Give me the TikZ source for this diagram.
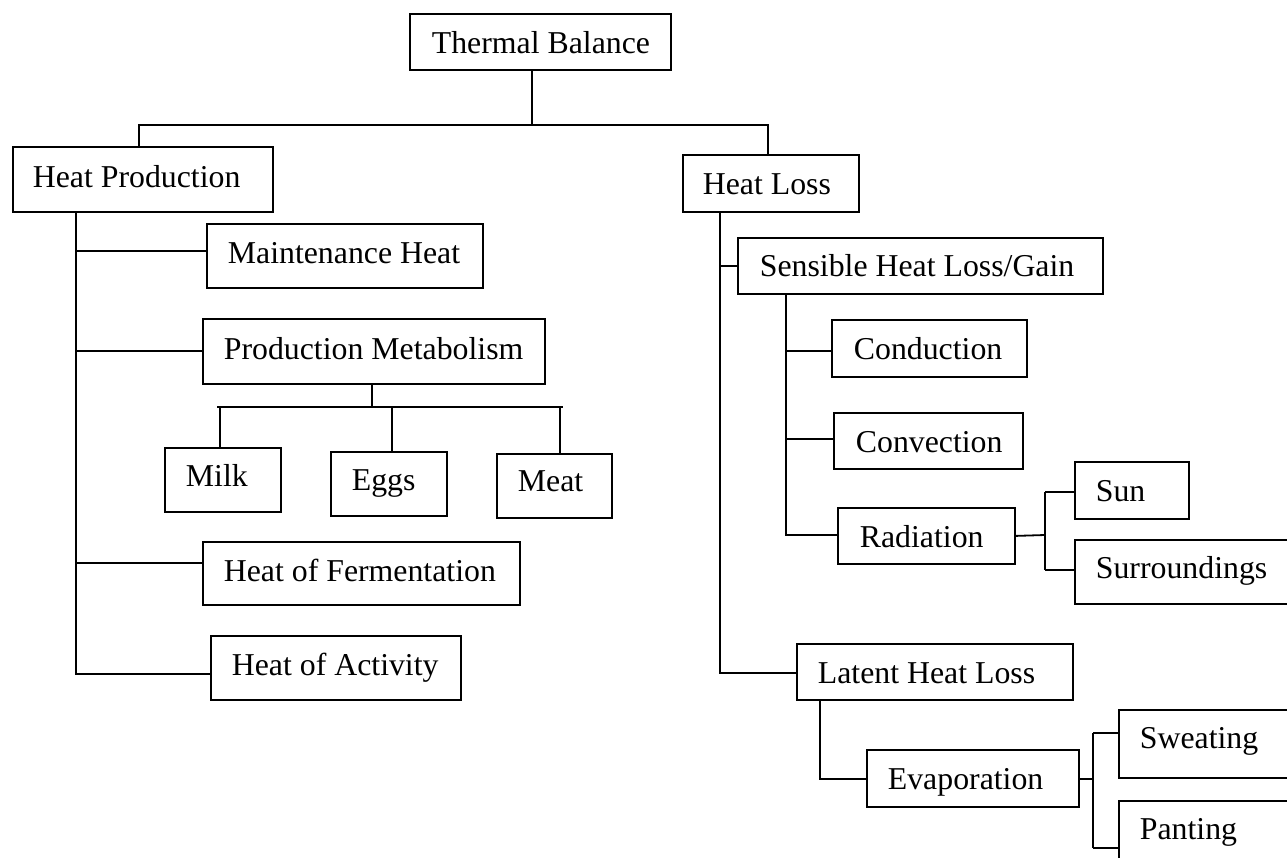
\documentclass[tikz,border=0pt]{standalone}
\usepackage{fontspec}
\setmainfont{Liberation Serif}
\begin{document}
\begin{tikzpicture}[x=1pt,y=-1pt,line width=1.8pt,
  bx/.style={draw,rectangle,anchor=north west,inner sep=0pt},
  tx/.style={anchor=base west,inner sep=0pt,font=\fontsize{31.8}{38}\selectfont},
  ln/.style={draw,line width=1.8pt}]
\useasboundingbox (0,0) rectangle (1287,857);
\clip (0,0) rectangle (1287,857);
% boxes
\node[bx,minimum width=261,minimum height=56] (tb) at (409,13) {};
\node[bx,minimum width=260,minimum height=65] (hp) at (12,146) {};
\node[bx,minimum width=276,minimum height=64] (mh) at (206,223) {};
\node[bx,minimum width=342,minimum height=65] (pm) at (202,318) {};
\node[bx,minimum width=116,minimum height=64] (milk) at (164,447) {};
\node[bx,minimum width=116,minimum height=64] (eggs) at (330,451) {};
\node[bx,minimum width=115,minimum height=64] (meat) at (496,453) {};
\node[bx,minimum width=317,minimum height=63] (hof) at (202,541) {};
\node[bx,minimum width=250,minimum height=64] (hoa) at (210,635) {};
\node[bx,minimum width=176,minimum height=57] (hl) at (682,154) {};
\node[bx,minimum width=365,minimum height=56] (shl) at (737,237) {};
\node[bx,minimum width=195,minimum height=57] (cond) at (831,319) {};
\node[bx,minimum width=189,minimum height=56] (conv) at (833,412) {};
\node[bx,minimum width=177,minimum height=56] (rad) at (837,507) {};
\node[bx,minimum width=114,minimum height=57] (sun) at (1074,461) {};
\node[bx,minimum width=226,minimum height=64] (sur) at (1074,539) {};
\node[bx,minimum width=276,minimum height=56] (lhl) at (796,643) {};
\node[bx,minimum width=212,minimum height=57] (evap) at (866,749) {};
\node[bx,minimum width=182,minimum height=68] (swt) at (1118,709) {};
\node[bx,minimum width=182,minimum height=70] (pant) at (1118,800) {};
% texts
\node[tx] (tbt) at (431,53) {Thermal Balance};
\node[tx] (hpt) at (32,187) {Heat Production};
\node[tx] (mht) at (227,263) {Maintenance Heat};
\node[tx] (pmt) at (223,359) {Production Metabolism};
\node[tx] (milkt) at (185,486) {Milk};
\node[tx] (eggst) at (351,490) {Eggs};
\node[tx] (meatt) at (517,491) {Meat};
\node[tx] (hoft) at (223,581) {Heat of Fermentation};
\node[tx] (hoat) at (231,675) {Heat of Activity};
\node[tx] (hlt) at (702,194) {Heat Loss};
\node[tx] (shlt) at (759,276) {Sensible Heat Loss/Gain};
\node[tx] (condt) at (853,359) {Conduction};
\node[tx] (convt) at (855,452) {Convection};
\node[tx] (radt) at (859,547) {Radiation};
\node[tx] (sunt) at (1095,501) {Sun};
\node[tx] (surt) at (1095,578) {Surroundings};
\node[tx] (lhlt) at (817,683) {Latent Heat Loss};
\node[tx] (evapt) at (887,789) {Evaporation};
\node[tx] (swtt) at (1139,748) {Sweating};
\node[tx] (pantt) at (1139,839) {Panting};
% junction coordinates
\coordinate (j0) at (532,125);
\coordinate (jL) at (139,125);
\coordinate (jR) at (768,125);
\coordinate (hpv) at (76,674);
\coordinate (bmh) at (76,251);
\coordinate (bpm) at (76,351);
\coordinate (bhof) at (76,563);
\coordinate (pmj) at (372,407);
\coordinate (barL) at (217,407);
\coordinate (barR) at (563,407);
\coordinate (dmilk) at (220,407);
\coordinate (deggs) at (392,407);
\coordinate (dmeat) at (560,407);
\coordinate (hlv) at (720,673);
\coordinate (bshl) at (720,266);
\coordinate (shlv) at (786,535);
\coordinate (bcond) at (786,351);
\coordinate (bconv) at (786,439);
\coordinate (rj) at (1045,535);
\coordinate (rs) at (1045,492);
\coordinate (rsu) at (1045,570);
\coordinate (lv) at (820,779);
\coordinate (ej) at (1093,779);
\coordinate (es) at (1093,733);
\coordinate (ep) at (1093,848);
% connectors
\path[ln] (j0 |- tb.south) -- (j0);
\path[ln] (jL |- hp.north) -- (jL) -- (jR) -- (jR |- hl.north);
\path[ln] (hpv |- hp.south) -- (hpv) -- (hoa.west |- hpv);
\path[ln] (bmh) -- (mh.west |- bmh);
\path[ln] (bpm) -- (pm.west |- bpm);
\path[ln] (bhof) -- (hof.west |- bhof);
\path[ln] (pmj |- pm.south) -- (pmj);
\path[ln] (barL) -- (barR);
\path[ln] (dmilk) -- (dmilk |- milk.north);
\path[ln] (deggs) -- (deggs |- eggs.north);
\path[ln] (dmeat) -- (dmeat |- meat.north);
\path[ln] (hlv |- hl.south) -- (hlv) -- (lhl.west |- hlv);
\path[ln] (bshl) -- (shl.west |- bshl);
\path[ln] (shlv |- shl.south) -- (shlv) -- (rad.west |- shlv);
\path[ln] (bcond) -- (cond.west |- bcond);
\path[ln] (bconv) -- (conv.west |- bconv);
\path[ln] (rad.east) -- (rj);
\path[ln] (rs) -- (rsu);
\path[ln] (rs) -- (sun.west |- rs);
\path[ln] (rsu) -- (sur.west |- rsu);
\path[ln] (lv |- lhl.south) -- (lv) -- (evap.west |- lv);
\path[ln] (evap.east |- ej) -- (ej);
\path[ln] (es) -- (ep);
\path[ln] (es) -- (swt.west |- es);
\path[ln] (ep) -- (pant.west |- ep);
\end{tikzpicture}
\end{document}
